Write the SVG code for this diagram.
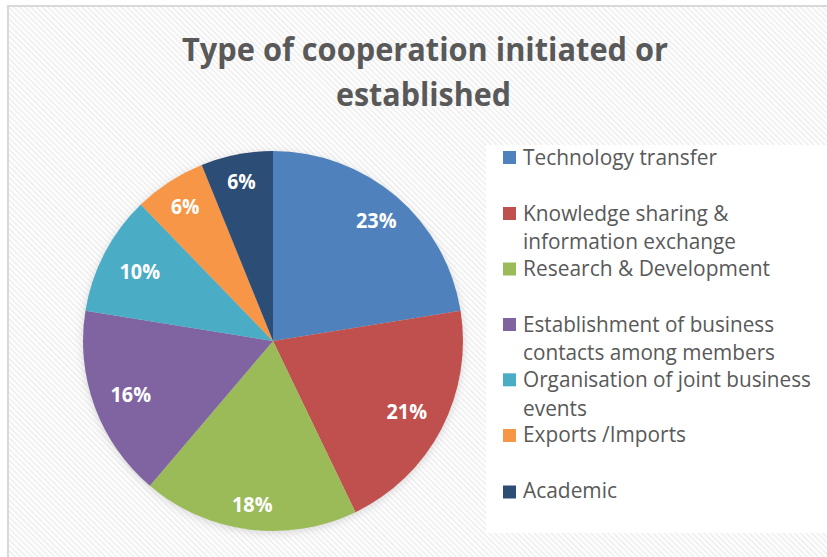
<svg xmlns="http://www.w3.org/2000/svg" width="827" height="557" viewBox="0 0 827 557">
<defs>
<pattern id="stripes" width="4" height="4" patternUnits="userSpaceOnUse" patternTransform="rotate(-45)">
<rect width="4" height="4" fill="#ffffff"/>
<rect width="1.6" height="4" fill="#eeeeee"/>
</pattern>
<filter id="shadow" x="-20%" y="-20%" width="140%" height="140%">
<feGaussianBlur stdDeviation="4"/>
</filter>
<style>
.title{font-family:"Open Sans","Liberation Sans",sans-serif;font-weight:bold;font-size:31.5px;fill:#595959}
.lbl{font-family:"Open Sans","Liberation Sans",sans-serif;font-weight:bold;font-size:21.5px;fill:#ffffff}
.leg{font-family:"Open Sans","Liberation Sans",sans-serif;font-size:21px;fill:#595959}
</style>
</defs>
<rect x="0" y="0" width="827" height="557" fill="#ffffff"/>
<rect x="8" y="6" width="830" height="560" fill="url(#stripes)" stroke="#d9d9d9" stroke-width="2"/>
<g id="title">
<text class="title" x="182" y="61" textLength="486" lengthAdjust="spacingAndGlyphs">Type of cooperation initiated or</text>
<text class="title" x="336" y="106" textLength="175" lengthAdjust="spacingAndGlyphs">established</text>
</g>
<circle cx="273" cy="343" r="190" fill="#bfbfbf" opacity="0.6" filter="url(#shadow)"/>
<g id="pie">
<g id="slice-technology"><path d="M273,341 L273,151 A190,190 0 0 1 460.56,310.68 Z" fill="#4f81bd"/></g>
<g id="slice-knowledge"><path d="M273,341 L460.56,310.68 A190,190 0 0 1 355.44,512.18 Z" fill="#c0504d"/></g>
<g id="slice-research"><path d="M273,341 L355.44,512.18 A190,190 0 0 1 149.86,485.69 Z" fill="#9bbb59"/></g>
<g id="slice-establishment"><path d="M273,341 L149.86,485.69 A190,190 0 0 1 85.44,310.68 Z" fill="#8064a2"/></g>
<g id="slice-organisation"><path d="M273,341 L85.44,310.68 A190,190 0 0 1 140.82,204.52 Z" fill="#4bacc6"/></g>
<g id="slice-exports"><path d="M273,341 L140.82,204.52 A190,190 0 0 1 201.71,164.89 Z" fill="#f79646"/></g>
<g id="slice-academic"><path d="M273,341 L201.71,164.89 A190,190 0 0 1 273,151 Z" fill="#2c4d75"/></g>
</g>
<g id="labels">
<text class="lbl" x="356" y="228.3" textLength="40.5" lengthAdjust="spacingAndGlyphs">23%</text>
<text class="lbl" x="386.5" y="418.7" textLength="40.5" lengthAdjust="spacingAndGlyphs">21%</text>
<text class="lbl" x="232" y="512" textLength="40.5" lengthAdjust="spacingAndGlyphs">18%</text>
<text class="lbl" x="110.5" y="402" textLength="40.5" lengthAdjust="spacingAndGlyphs">16%</text>
<text class="lbl" x="119.5" y="278.7" textLength="40.5" lengthAdjust="spacingAndGlyphs">10%</text>
<text class="lbl" x="171" y="214" textLength="28.5" lengthAdjust="spacingAndGlyphs">6%</text>
<text class="lbl" x="227.3" y="189" textLength="28.5" lengthAdjust="spacingAndGlyphs">6%</text>
</g>
<g id="legend">
<rect x="486" y="145" width="345" height="388" fill="#ffffff"/>
<g id="leg-technology"><rect x="503" y="151" width="13" height="13" fill="#4f81bd"/><text class="leg" x="523" y="165" textLength="194" lengthAdjust="spacingAndGlyphs">Technology transfer</text></g>
<g id="leg-knowledge"><rect x="503" y="207" width="13" height="13" fill="#c0504d"/><text class="leg" x="523" y="220.7" textLength="205.5" lengthAdjust="spacingAndGlyphs">Knowledge sharing &amp;</text><text class="leg" x="523" y="249" textLength="213" lengthAdjust="spacingAndGlyphs">information exchange</text></g>
<g id="leg-research"><rect x="503" y="262.5" width="13" height="13" fill="#9bbb59"/><text class="leg" x="523" y="275.7" textLength="247" lengthAdjust="spacingAndGlyphs">Research &amp; Development</text></g>
<g id="leg-establishment"><rect x="503" y="318" width="13" height="13" fill="#8064a2"/><text class="leg" x="523" y="331.7" textLength="251" lengthAdjust="spacingAndGlyphs">Establishment of business</text><text class="leg" x="523" y="360" textLength="252" lengthAdjust="spacingAndGlyphs">contacts among members</text></g>
<g id="leg-organisation"><rect x="503" y="373.3" width="13" height="13" fill="#4bacc6"/><text class="leg" x="523" y="386.7" textLength="288" lengthAdjust="spacingAndGlyphs">Organisation of joint business</text><text class="leg" x="523" y="415.7" textLength="64" lengthAdjust="spacingAndGlyphs">events</text></g>
<g id="leg-exports"><rect x="503" y="429" width="13" height="13" fill="#f79646"/><text class="leg" x="523" y="442.3" textLength="163" lengthAdjust="spacingAndGlyphs">Exports /Imports</text></g>
<g id="leg-academic"><rect x="503" y="485.5" width="13" height="13" fill="#2c4d75"/><text class="leg" x="523" y="498.3" textLength="94" lengthAdjust="spacingAndGlyphs">Academic</text></g>
</g>
</svg>
